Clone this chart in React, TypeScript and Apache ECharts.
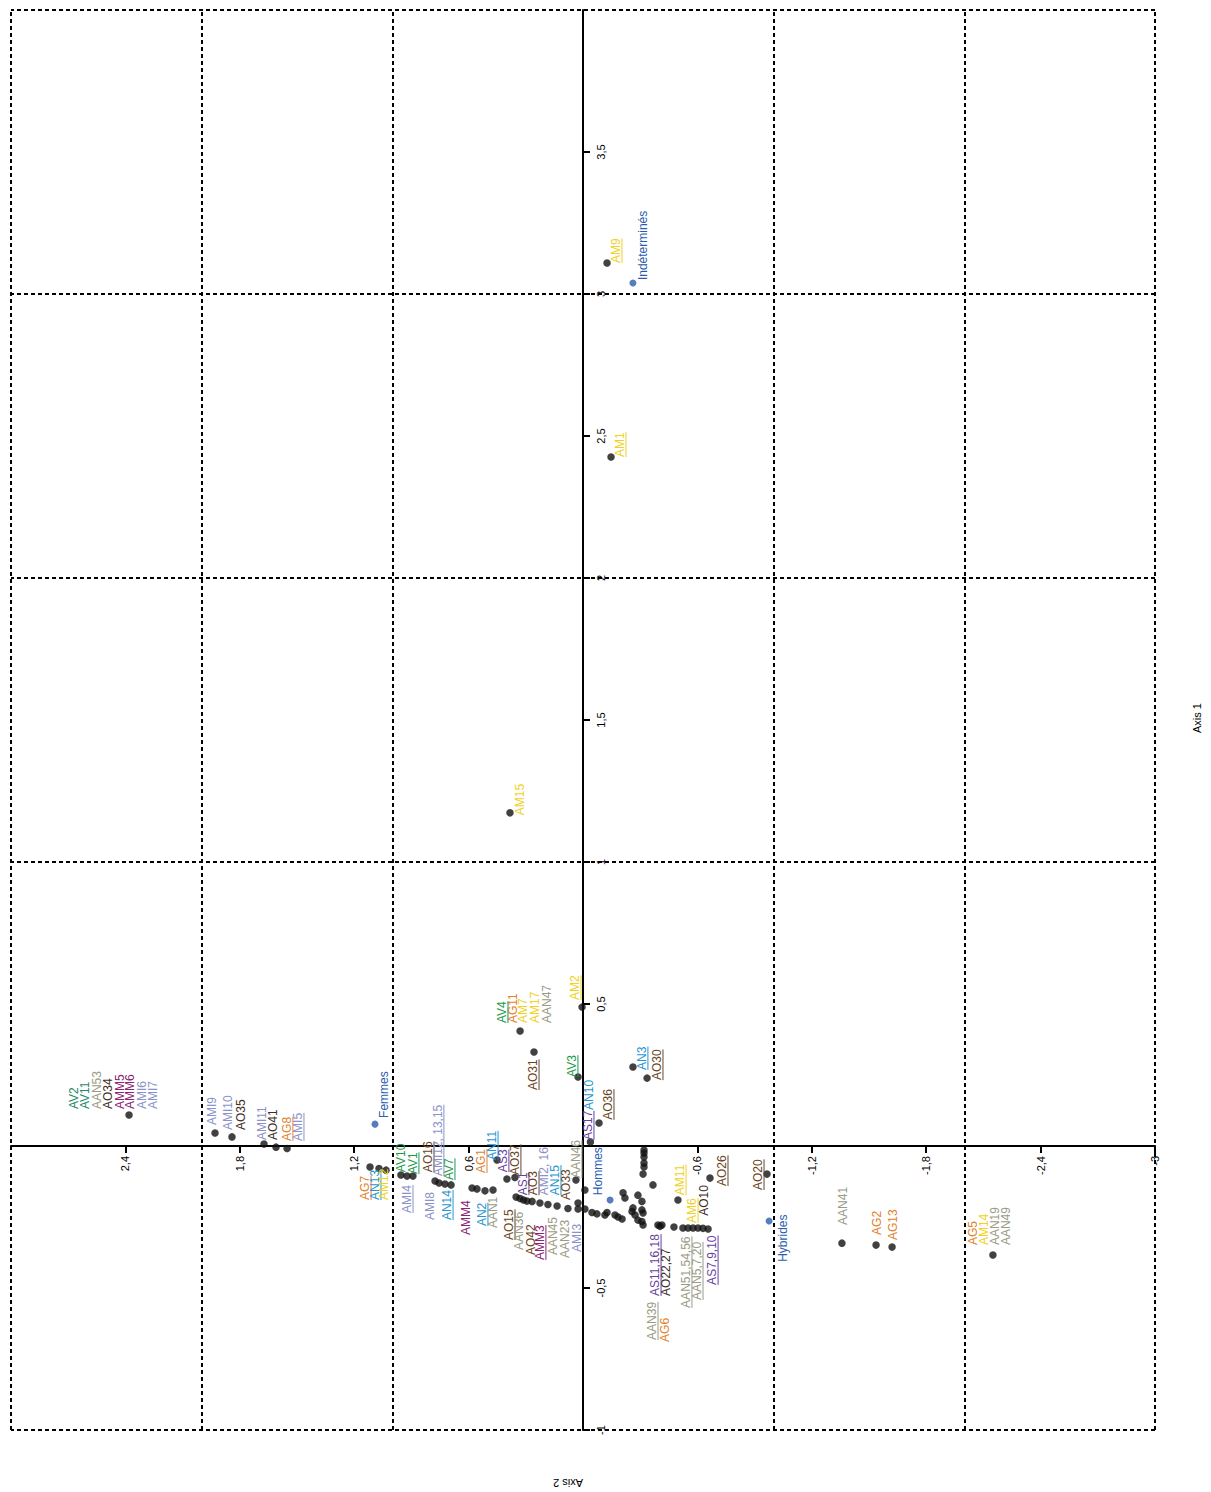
import React, { useEffect, useRef } from "react";
import * as echarts from "echarts";

// ---------- data ----------
// black points: [Axis 2, Axis 1]
const dots: [number, number][] = [
  [2.381, 0.109], [1.93, 0.046], [1.841, 0.032], [1.673, 0.007], [1.61, -0.004], [1.552, -0.009],
  [1.117, -0.074], [1.07, -0.079], [1.033, -0.085], [0.955, -0.102], [0.923, -0.106], [0.892, -0.106],
  [0.776, -0.123], [0.755, -0.13], [0.724, -0.134], [0.692, -0.137], [0.582, -0.148], [0.556, -0.151],
  [0.514, -0.158], [0.472, -0.155], [0.451, -0.049], [0.399, -0.116], [0.357, -0.111], [0.351, -0.18],
  [0.33, -0.185], [0.312, -0.19], [0.294, -0.194], [0.267, -0.195], [0.226, -0.201], [0.184, -0.206],
  [0.136, -0.211], [0.079, -0.22], [0.037, -0.12], [0.026, -0.201], [0.026, -0.222], [-0.01, -0.222],
  [-0.01, -0.155], [-0.039, 0.014], [-0.084, 0.081], [-0.32, -0.014], [-0.32, -0.025], [-0.32, -0.039],
  [-0.32, -0.06], [-0.32, -0.074], [-0.315, -0.099], [-0.367, -0.137], [-0.21, -0.165], [-0.22, -0.183],
  [-0.288, -0.173], [-0.309, -0.195], [-0.262, -0.218], [-0.257, -0.231], [-0.309, -0.225], [-0.315, -0.236],
  [-0.273, -0.243], [-0.288, -0.261], [-0.309, -0.266], [-0.315, -0.278], [-0.047, -0.234], [-0.073, -0.239],
  [-0.115, -0.243], [-0.126, -0.234], [-0.168, -0.243], [-0.184, -0.25], [-0.205, -0.257], [-0.393, -0.278],
  [-0.414, -0.278], [-0.404, -0.283], [-0.477, -0.285], [-0.498, -0.19], [-0.524, -0.289], [-0.551, -0.289],
  [-0.577, -0.289], [-0.603, -0.289], [-0.629, -0.29], [-0.656, -0.292], [-0.666, -0.113], [0.005, 0.489],
  [0.33, 0.405], [0.257, 0.331], [0.026, 0.243], [-0.262, 0.278], [-0.336, 0.239], [-0.965, -0.099],
  [-1.358, -0.342], [-1.537, -0.349], [-1.621, -0.356], [-2.15, -0.384], [-0.126, 3.109], [-0.147, 2.426],
  [0.383, 1.173],
];

// supplementary (blue) points
const groupNames = ["Femmes", "Hommes", "Indéterminés", "Hybrides"];
const groupAxis2 = [1.091, -0.142, -0.262, -0.976];
const groupAxis1 = [0.077, -0.19, 3.039, -0.264];

// dashed reference lines
const gridAxis2 = [3, 2, 1, -1, -2, -3];
const gridAxis1 = [4, 3, 2, 1, -1];

// labels: [text, Axis 2 anchor, Axis 1 anchor, family, underlined]
type Lab = [string, number, number, string, number];
const labels: Lab[] = [
  ["AV2", 2.67, 0.13, "AVt", 0], ["AV11", 2.612, 0.13, "AVt", 0], ["AAN53", 2.549, 0.13, "AAN", 0],
  ["AO34", 2.491, 0.13, "AOd", 0], ["AMM5", 2.428, 0.13, "AMM", 0], ["AMM6", 2.376, 0.13, "AMM", 0],
  ["AMI6", 2.313, 0.13, "AMI", 0], ["AMI7", 2.255, 0.13, "AMI", 0],
  ["AMI9", 1.946, 0.074, "AMI", 0], ["AMI10", 1.862, 0.056, "AMI", 0], ["AO35", 1.794, 0.056, "AOd", 0],
  ["AMI11", 1.684, 0.021, "AMI", 0], ["AO41", 1.626, 0.021, "AOd", 0], ["AG8", 1.553, 0.018, "AG", 1],
  ["AMI5", 1.495, 0.018, "AMI", 1],
  ["Femmes", 1.044, 0.099, "B", 0],
  ["AG7", 1.143, -0.19, "AG", 1], ["AN13", 1.091, -0.19, "AN", 1], ["AM12", 1.044, -0.19, "AM", 0],
  ["AV10", 0.955, -0.092, "AV", 0], ["AV1", 0.892, -0.099, "AV", 1], ["AMI4", 0.923, -0.236, "AMI", 1],
  ["AO16", 0.813, -0.092, "AO", 1], ["AMI12, 13,15", 0.761, -0.106, "AMI", 1], ["AV7", 0.703, -0.12, "AV", 1],
  ["AMI8", 0.802, -0.261, "AMI", 0], ["AN14", 0.713, -0.261, "AN", 1], ["AMM4", 0.614, -0.313, "AMM", 0],
  ["AG1", 0.535, -0.095, "AG", 1], ["AN2", 0.53, -0.282, "AN", 1], ["AAN1", 0.472, -0.289, "AAN", 0],
  ["AN11", 0.477, -0.049, "AN", 1], ["AS3", 0.42, -0.092, "AS", 1], ["AO37", 0.357, -0.102, "AO", 1],
  ["AS1", 0.315, -0.173, "AS", 1], ["AO3", 0.262, -0.173, "AO", 1], ["AMI2, 16", 0.205, -0.173, "AMI", 0],
  ["AN15", 0.147, -0.173, "AN", 1], ["AO33", 0.089, -0.19, "AO", 0], ["AAN46", 0.037, -0.113, "AAN", 1],
  ["AS17", -0.026, 0.021, "AS", 1], ["AN10", -0.034, 0.127, "AN", 0], ["AO36", -0.131, 0.092, "AO", 1],
  ["AO15", 0.388, -0.331, "AO", 1], ["AAN36", 0.336, -0.366, "AAN", 0], ["AO42", 0.273, -0.384, "AO", 0],
  ["AMM3", 0.226, -0.401, "AMM", 1], ["AAN45", 0.157, -0.384, "AAN", 0], ["AAN23", 0.094, -0.394, "AAN", 0],
  ["AMI3", 0.031, -0.373, "AMI", 0],
  ["Hommes", -0.079, -0.173, "B", 0],
  ["AM11", -0.509, -0.173, "AM", 1], ["AM6", -0.572, -0.271, "AM", 1], ["AO10", -0.635, -0.246, "AOd", 0],
  ["AO26", -0.729, -0.141, "AO", 1],
  ["AS11,16,18", -0.378, -0.528, "AS", 1], ["AO22,27", -0.435, -0.528, "AOd", 0],
  ["AAN51,54,56", -0.54, -0.57, "AAN", 1], ["AAN5,7,20", -0.598, -0.542, "AAN", 1],
  ["AS7,9,10", -0.677, -0.489, "AS", 1], ["AAN39", -0.362, -0.683, "AAN", 1], ["AG6", -0.43, -0.69, "AG", 0],
  ["AV4", 0.425, 0.433, "AV", 1], ["AG11", 0.367, 0.433, "AG", 0], ["AM7", 0.315, 0.433, "AM", 0],
  ["AM17", 0.252, 0.433, "AM", 0], ["AAN47", 0.189, 0.433, "AAN", 0], ["AO31", 0.262, 0.197, "AO", 1],
  ["AM2", 0.042, 0.514, "AM", 1], ["AV3", 0.058, 0.243, "AV", 1], ["AN3", -0.309, 0.268, "AN", 1],
  ["AO30", -0.388, 0.232, "AO", 1],
  ["AO20", -0.918, -0.155, "AO", 1], ["Hybrides", -1.049, -0.408, "B", 0],
  ["AAN41", -1.364, -0.278, "AAN", 0], ["AG2", -1.542, -0.313, "AG", 0], ["AG13", -1.626, -0.331, "AG", 0],
  ["AG5", -2.046, -0.349, "AG", 0], ["AM14", -2.103, -0.349, "AM", 0], ["AAN19", -2.161, -0.349, "AAN", 0],
  ["AAN49", -2.219, -0.349, "AAN", 0],
  ["AM9", -0.173, 3.109, "AM", 1], ["Indéterminés", -0.315, 3.049, "B", 0],
  ["AM1", -0.194, 2.426, "AM", 1], ["AM15", 0.33, 1.165, "AM", 0],
];

const COLORS: Record<string, string> = {
  AV: "#1c9a4a",
  AVt: "#1f8a66",
  AG: "#e2822e",
  AN: "#2895d2",
  AM: "#f0d11c",
  AMI: "#8c92c9",
  AS: "#6a3f9f",
  AMM: "#8b2272",
  AO: "#6a4524",
  AOd: "#3e2e1f",
  AAN: "#9a9c86",
  B: "#2c5cae",
};

const FONT_FAMILY = '"Liberation Sans", Arial, sans-serif';
const LABEL_FONT = `12px ${FONT_FAMILY}`;

// layout of the plotting area
const GRID = { left: 11, right: 56, top: 10, bottom: 62 };
const X_MIN = -3, X_MAX = 3, Y_MIN = -1, Y_MAX = 4;

let measureCtx: CanvasRenderingContext2D | null = null;
function textWidth(t: string): number {
  if (!measureCtx) {
    const c = document.createElement("canvas");
    measureCtx = c.getContext("2d");
  }
  if (!measureCtx) return t.length * 7;
  measureCtx.font = LABEL_FONT;
  return measureCtx.measureText(t).width;
}

function fmt(v: number): string {
  if (Math.abs(v) < 1e-9) return "";
  const r = Math.round(v * 10) / 10;
  return String(r).replace(".", ",");
}

export default function App() {
  const ref = useRef<HTMLDivElement>(null);

  useEffect(() => {
    if (!ref.current) return;
    const W = 1211, H = 1492;
    const chart = echarts.init(ref.current, undefined, { renderer: "svg" });
    const plotW = W - GRID.left - GRID.right;
    const plotH = H - GRID.top - GRID.bottom;
    // shift the axes from the grid edges to the zero lines
    const xOffset = -plotH * (0 - Y_MIN) / (Y_MAX - Y_MIN);
    const yOffset = -plotW * (X_MAX - 0) / (X_MAX - X_MIN);
    const option: any = {
      animation: false,
      backgroundColor: "#ffffff",
      grid: { ...GRID, containLabel: false },
      xAxis: {
        type: "value",
        min: X_MIN,
        max: X_MAX,
        interval: 0.6,
        inverse: true,
        offset: xOffset,
        axisLine: { onZero: false, lineStyle: { color: "#000", width: 2 } },
        axisTick: { show: true, length: 7, lineStyle: { color: "#000", width: 2 } },
        axisLabel: {
          rotate: 90,
          color: "#000",
          fontSize: 11,
          fontFamily: FONT_FAMILY,
          margin: 10,
          showMaxLabel: false,
          formatter: fmt,
        },
        splitLine: { show: false },
      },
      yAxis: {
        type: "value",
        min: Y_MIN,
        max: Y_MAX,
        interval: 0.5,
        offset: yOffset,
        axisLine: { onZero: false, lineStyle: { color: "#000", width: 2 } },
        axisTick: { show: true, inside: true, length: 7, lineStyle: { color: "#000", width: 2 } },
        axisLabel: {
          inside: true,
          rotate: 90,
          color: "#000",
          fontSize: 11,
          fontFamily: FONT_FAMILY,
          margin: 12,
          showMaxLabel: false,
          formatter: fmt,
        },
        splitLine: { show: false },
      },
      graphic: [
        {
          type: "text",
          x: 1197,
          y: 718,
          rotation: Math.PI / 2,
          style: {
            text: "Axis 1",
            fill: "#000",
            font: `11px ${FONT_FAMILY}`,
            textAlign: "center",
            textVerticalAlign: "middle",
            align: "center",
            verticalAlign: "middle",
          },
        },
        {
          type: "text",
          x: 568,
          y: 1483,
          rotation: Math.PI,
          style: {
            text: "Axis 2",
            fill: "#000",
            font: `11px ${FONT_FAMILY}`,
            textAlign: "center",
            textVerticalAlign: "middle",
            align: "center",
            verticalAlign: "middle",
          },
        },
      ],
      series: [
        {
          type: "scatter",
          name: "grid",
          data: [],
          silent: true,
          markLine: {
            silent: true,
            symbol: "none",
            label: { show: false },
            lineStyle: { color: "#000", type: [4, 3], width: 2 },
            emphasis: { disabled: true },
            data: [
              ...gridAxis2.map((v) => ({ xAxis: v })),
              ...gridAxis1.map((v) => ({ yAxis: v })),
            ],
          },
        },
        {
          type: "scatter",
          name: "points",
          symbolSize: 7.5,
          itemStyle: { color: "#111111" },
          silent: true,
          data: dots,
          z: 3,
        },
        {
          type: "scatter",
          name: "groups",
          symbolSize: 7,
          itemStyle: { color: COLORS.B },
          silent: true,
          data: groupNames.map((n, i) => ({ name: n, value: [groupAxis2[i], groupAxis1[i]] })),
          z: 3,
        },
        {
          type: "custom",
          name: "labels",
          silent: true,
          clip: false,
          z: 4,
          data: labels.map((l) => [l[1], l[2]]),
          renderItem: (params: any, api: any) => {
            const l = labels[params.dataIndex];
            const p = api.coord([api.value(0), api.value(1)]);
            const color = COLORS[l[3]];
            const children: any[] = [
              {
                type: "text",
                style: {
                  text: l[0],
                  x: 0,
                  y: 0,
                  fill: color,
                  font: LABEL_FONT,
                  textAlign: "left",
                  textVerticalAlign: "middle",
                  align: "left",
                  verticalAlign: "middle",
                },
              },
            ];
            if (l[4]) {
              const w = textWidth(l[0]);
              children.push({
                type: "line",
                shape: { x1: 0, y1: 6, x2: w, y2: 6 },
                style: { stroke: color, lineWidth: 1 },
              });
            }
            return { type: "group", x: p[0], y: p[1], rotation: Math.PI / 2, children };
          },
        },
      ],
    };
    chart.setOption(option);
    return () => chart.dispose();
  }, []);

  return (
    <div
      ref={ref}
      style={{ position: "absolute", left: 0, top: 0, width: 1211, height: 1492 }}
    />
  );
}
